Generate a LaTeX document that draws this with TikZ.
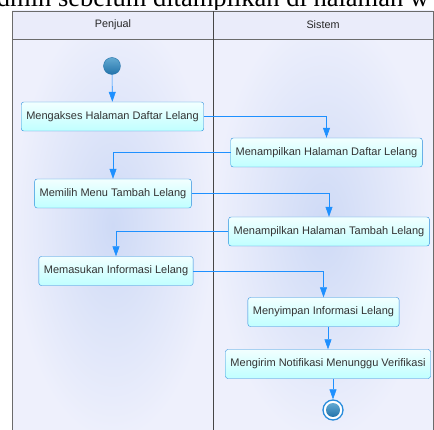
\documentclass[tikz,border=0pt]{standalone}
\usepackage{fontspec}
\setmainfont{Liberation Sans}
\newfontfamily\docfont{Liberation Serif}
\usetikzlibrary{arrows.meta,positioning,shadings}

\definecolor{flowblue}{RGB}{30,144,255}
\definecolor{boxline}{RGB}{40,140,220}
\definecolor{boxtop}{RGB}{242,255,255}
\definecolor{boxbot}{RGB}{192,255,255}
\definecolor{laneout}{RGB}{238,240,252}
\definecolor{lanein}{RGB}{206,218,246}
\definecolor{headfill}{RGB}{234,236,250}
\definecolor{frameline}{RGB}{70,70,70}
\definecolor{dottop}{RGB}{100,170,210}
\definecolor{dotbot}{RGB}{35,115,170}

\begin{document}
\begin{tikzpicture}[x=1pt, y=-1pt,
    act/.style={draw=boxline, rounded corners=2.5pt, top color=boxtop, bottom color=boxbot, minimum height=29pt, inner xsep=5pt, font=\fontsize{11}{13}\selectfont, text=black!80},
    arrow/.style={-{Triangle[length=10pt,width=7pt]}, flowblue, semithick},
    lanehead/.style={font=\fontsize{10.8}{12}\selectfont, text=black!85},
    lane/.style={inner color=lanein, outer color=laneout}
]
    \useasboundingbox (0,0) rectangle (434,430);

    % text of the page above the figure
    \node[font=\docfont\fontsize{26.5}{30}\selectfont, anchor=base west, inner sep=0] (doctext) at (-15,7) {admin sebelum ditampilkan di halaman w};

    % swimlanes
    \path[lane] (12,11) rectangle (213.5,440);
    \path[lane] (213.5,11) rectangle (433,440);
    \path[fill=headfill] (12,11) rectangle (433,39);
    \draw[frameline!80] (12,440) -- (12,11) -- (433,11) -- (433,440);
    \draw[frameline!80] (12,39) -- (433,39);
    \draw[frameline, line width=1.2pt] (213.5,11) -- (213.5,440);
    \node[lanehead] (penjual) at (113,25) {Penjual};
    \node[lanehead] (sistem) at (323,25) {Sistem};

    % start
    \node[circle, draw=dotbot, top color=dottop, bottom color=dotbot, minimum size=17pt, inner sep=0] (start) at (112,66) {};

    % activities
    \node[act] (b1) at (112.5,116.5) {Mengakses Halaman Daftar Lelang};
    \node[act] (b2) at (326.5,152.5) {Menampilkan Halaman Daftar Lelang};
    \node[act] (b3) at (113,193.5) {Memilih Menu Tambah Lelang};
    \node[act] (b4) at (329,231.5) {Menampilkan Halaman Tambah Lelang};
    \node[act] (b5) at (116,271) {Memasukan Informasi Lelang};
    \node[act] (b6) at (323.5,312) {Menyimpan Informasi Lelang};
    \node[act] (b7) at (328,364) {Mengirim Notifikasi Menunggu Verifikasi};

    % end
    \node[circle, draw=boxline, fill=white, line width=1.3pt, minimum size=20pt, inner sep=0] (end) at (333,410) {};
    \shade[top color=dottop, bottom color=dotbot] (end.center) circle (7);

    % flows
    \draw[arrow] (start) -- (b1);
    \draw[arrow] (b1) -| (b2);
    \draw[arrow] (b2) -| (b3);
    \draw[arrow] (b3) -| (b4);
    \draw[arrow] (b4) -| (b5);
    \draw[arrow] (b5) -| (b6);
    \draw[arrow] (b6.south -| b7.north) -- (b7);
    \draw[arrow] (b7.south -| end) -- (end);
\end{tikzpicture}
\end{document}
